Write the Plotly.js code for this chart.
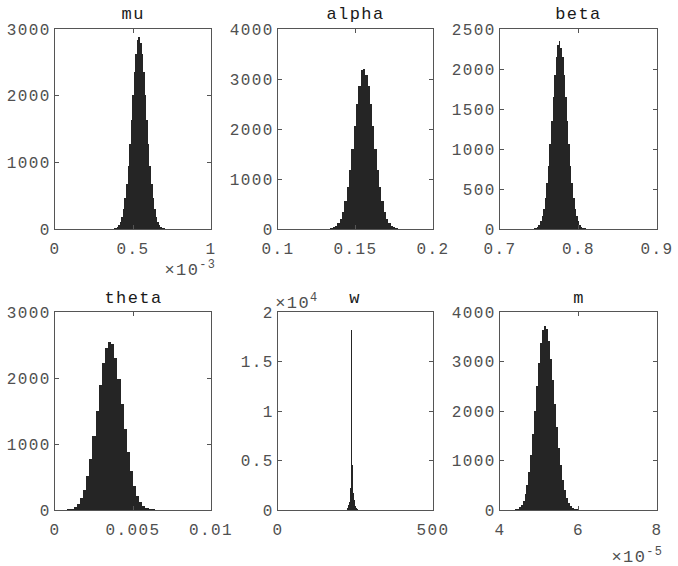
<!DOCTYPE html>
<html>
<head>
<meta charset="utf-8">
<script src="https://cdn.plot.ly/plotly-3.0.1.min.js"></script>
<style>
html,body{margin:0;padding:0;background:#fff;}
#chart svg text{letter-spacing:1.4px;}
</style>
</head>
<body>
<div id="chart" style="width:678px;height:566px;"></div>
<script>
// ---- Data (bin centers and counts) ----
const muBins = [0.00036,0.00037,0.00038,0.00039,0.00040,0.00041,0.00042,0.00043,0.00044,0.00045,0.00046,0.00047,0.00048,0.00049,0.00050,0.00051,0.00052,0.00053,0.00054,0.00055,0.00056,0.00057,0.00058,0.00059,0.00060,0.00061,0.00062,0.00063,0.00064,0.00065,0.00066,0.00067,0.00068,0.00069,0.00070,0.00071,0.00072];
const muCounts = [2,4,9,18,34,63,111,186,300,461,676,950,1275,1635,2005,2349,2631,2830,2880,2790,2631,2349,2005,1635,1275,950,676,461,300,186,111,63,34,18,9,4,2];

const alphaBins = [0.1285,0.1300,0.1315,0.1330,0.1345,0.1360,0.1375,0.1390,0.1405,0.1420,0.1435,0.1450,0.1465,0.1480,0.1495,0.1510,0.1525,0.1540,0.1555,0.1570,0.1585,0.1600,0.1615,0.1630,0.1645,0.1660,0.1675,0.1690,0.1705,0.1720,0.1735,0.1750,0.1765,0.1780,0.1795,0.1810,0.1825];
const alphaCounts = [1,2,3,7,15,31,61,115,205,346,551,832,1190,1610,2062,2500,2867,3190,3200,3090,2867,2500,2062,1610,1190,832,551,346,205,115,61,31,15,7,3,2,1];

const betaBins = [0.740,0.742,0.744,0.746,0.748,0.750,0.752,0.754,0.756,0.758,0.760,0.762,0.764,0.766,0.768,0.770,0.772,0.774,0.776,0.778,0.780,0.782,0.784,0.786,0.788,0.790,0.792,0.794,0.796,0.798,0.800,0.802,0.804,0.806,0.808,0.810,0.812];
const betaCounts = [2,4,8,16,31,55,96,160,256,390,569,793,1058,1350,1648,1925,2151,2299,2350,2260,2151,1925,1648,1350,1058,793,569,390,256,160,96,55,31,16,8,4,2];

const thetaBins = [0.0003,0.0005,0.0007,0.0009,0.0011,0.0013,0.0015,0.0017,0.0019,0.0021,0.0023,0.0025,0.0027,0.0029,0.0031,0.0033,0.0035,0.0037,0.0039,0.0041,0.0043,0.0045,0.0047,0.0049,0.0051,0.0053,0.0055,0.0057,0.0059,0.0061,0.0063,0.0065,0.0067,0.0069,0.0071];
const thetaCounts = [1,2,4,10,22,47,95,177,310,508,778,1117,1501,1889,2227,2458,2540,2510,2300,1980,1610,1230,880,590,370,215,120,64,33,17,9,5,3,2,1];

const wBins = [222,224,226,228,230,232,234,236,238,240,242,244,246,248,250,252,254,256];
const wCounts = [100,170,300,500,800,1300,2200,8600,18200,4500,3000,1700,1050,650,400,250,160,100];

const mBins = [4.25e-5,4.30e-5,4.35e-5,4.40e-5,4.45e-5,4.50e-5,4.55e-5,4.60e-5,4.65e-5,4.70e-5,4.75e-5,4.80e-5,4.85e-5,4.90e-5,4.95e-5,5.00e-5,5.05e-5,5.10e-5,5.15e-5,5.20e-5,5.25e-5,5.30e-5,5.35e-5,5.40e-5,5.45e-5,5.50e-5,5.55e-5,5.60e-5,5.65e-5,5.70e-5,5.75e-5,5.80e-5,5.85e-5,5.90e-5,5.95e-5,6.00e-5,6.05e-5,6.10e-5,6.15e-5,6.20e-5,6.25e-5];
const mCounts = [1,3,7,14,29,57,106,187,314,503,765,1108,1528,2005,2506,2979,3370,3629,3720,3650,3420,3060,2620,2140,1680,1260,900,610,400,250,150,88,50,28,16,9,5,3,2,1,1];

const titles = ["mu","alpha","beta","theta","w","m"];

// ---- Layout ----
const W = 678, H = 566;
const px = v => v / W;
const py = v => 1 - v / H;
const FONT = "Liberation Mono, Courier New, monospace";
const tickFont = {family: FONT, size: 16, color: "#505050"};
const AX = "#555555";

function axisX(domain, range, vals, text, anchor) {
  return {domain, range, tickvals: vals, ticktext: text, anchor,
    showline: true, linecolor: AX, linewidth: 1, mirror: "allticks",
    ticks: "inside", ticklen: 4, tickcolor: AX, showgrid: false, zeroline: false,
    tickfont: tickFont, ticklabelstandoff: 5, fixedrange: true};
}
function axisY(domain, range, vals, text, anchor) {
  return {domain, range, tickvals: vals, ticktext: text, anchor,
    showline: true, linecolor: AX, linewidth: 1, mirror: "allticks",
    ticks: "inside", ticklen: 4, tickcolor: AX, showgrid: false, zeroline: false,
    tickfont: tickFont, ticklabelstandoff: 0, fixedrange: true};
}

const cols = [[55,211],[278,433],[500,657]];
const rows = [[29,229],[312,510]];
const dom = (c) => [px(cols[c][0]), px(cols[c][1])];
const ydom = (r) => [py(rows[r][1]), py(rows[r][0])];

const barStyle = {color: "#252525", line: {width: 0}};
function bar(x, y, width, xa, ya) {
  return {type: "bar", x, y, width, xaxis: xa, yaxis: ya, marker: barStyle, hoverinfo: "x+y", showlegend: false};
}

const data = [
  bar(muBins, muCounts, 0.00001, "x", "y"),
  bar(alphaBins, alphaCounts, 0.0015, "x2", "y2"),
  bar(betaBins, betaCounts, 0.002, "x3", "y3"),
  bar(thetaBins, thetaCounts, 0.0002, "x4", "y4"),
  bar(wBins, wCounts, 2, "x5", "y5"),
  bar(mBins, mCounts, 0.05e-5, "x6", "y6")
];

const layout = {
  width: W, height: H,
  margin: {l: 0, r: 0, t: 0, b: 0},
  paper_bgcolor: "#ffffff", plot_bgcolor: "#ffffff",
  bargap: 0,
  showlegend: false,
  xaxis:  axisX(dom(0), [0, 0.001], [0, 0.0005, 0.001], ["0","0.5","1"], "y"),
  yaxis:  axisY(ydom(0), [0, 3000], [0,1000,2000,3000], ["0","1000","2000","3000"], "x"),
  xaxis2: axisX(dom(1), [0.1, 0.2], [0.1, 0.15, 0.2], ["0.1","0.15","0.2"], "y2"),
  yaxis2: axisY(ydom(0), [0, 4000], [0,1000,2000,3000,4000], ["0","1000","2000","3000","4000"], "x2"),
  xaxis3: axisX(dom(2), [0.7, 0.9], [0.7, 0.8, 0.9], ["0.7","0.8","0.9"], "y3"),
  yaxis3: axisY(ydom(0), [0, 2500], [0,500,1000,1500,2000,2500], ["0","500","1000","1500","2000","2500"], "x3"),
  xaxis4: axisX(dom(0), [0, 0.01], [0, 0.005, 0.01], ["0","0.005","0.01"], "y4"),
  yaxis4: axisY(ydom(1), [0, 3000], [0,1000,2000,3000], ["0","1000","2000","3000"], "x4"),
  xaxis5: axisX(dom(1), [0, 500], [0, 500], ["0","500"], "y5"),
  yaxis5: axisY(ydom(1), [0, 20000], [0,5000,10000,15000,20000], ["0","0.5","1","1.5","2"], "x5"),
  xaxis6: axisX(dom(2), [4e-5, 8e-5], [4e-5, 6e-5, 8e-5], ["4","6","8"], "y6"),
  yaxis6: axisY(ydom(1), [0, 4000], [0,1000,2000,3000,4000], ["0","1000","2000","3000","4000"], "x6"),
  annotations: []
};

const titleFont = {family: FONT, size: 17, color: "#1a1a1a"};
titles.forEach((t, i) => {
  const c = i % 3, r = Math.floor(i / 3);
  layout.annotations.push({
    text: t, xref: "paper", yref: "paper",
    x: px((cols[c][0] + cols[c][1]) / 2), y: py(r === 0 ? 15 : 298),
    xanchor: "center", yanchor: "middle", showarrow: false, font: titleFont
  });
});
const expFont = {family: FONT, size: 17, color: "#505050"};
layout.annotations.push(
  {text: "\u00d710<sup>-3</sup>", xref: "paper", yref: "paper", x: px(215), y: py(269), xanchor: "right", yanchor: "middle", showarrow: false, font: expFont},
  {text: "\u00d710<sup>4</sup>", xref: "paper", yref: "paper", x: px(276), y: py(302), xanchor: "left", yanchor: "middle", showarrow: false, font: expFont},
  {text: "\u00d710<sup>-5</sup>", xref: "paper", yref: "paper", x: px(662), y: py(556), xanchor: "right", yanchor: "middle", showarrow: false, font: expFont}
);

Plotly.newPlot("chart", data, layout, {displayModeBar: false, staticPlot: true});
</script>
</body>
</html>
